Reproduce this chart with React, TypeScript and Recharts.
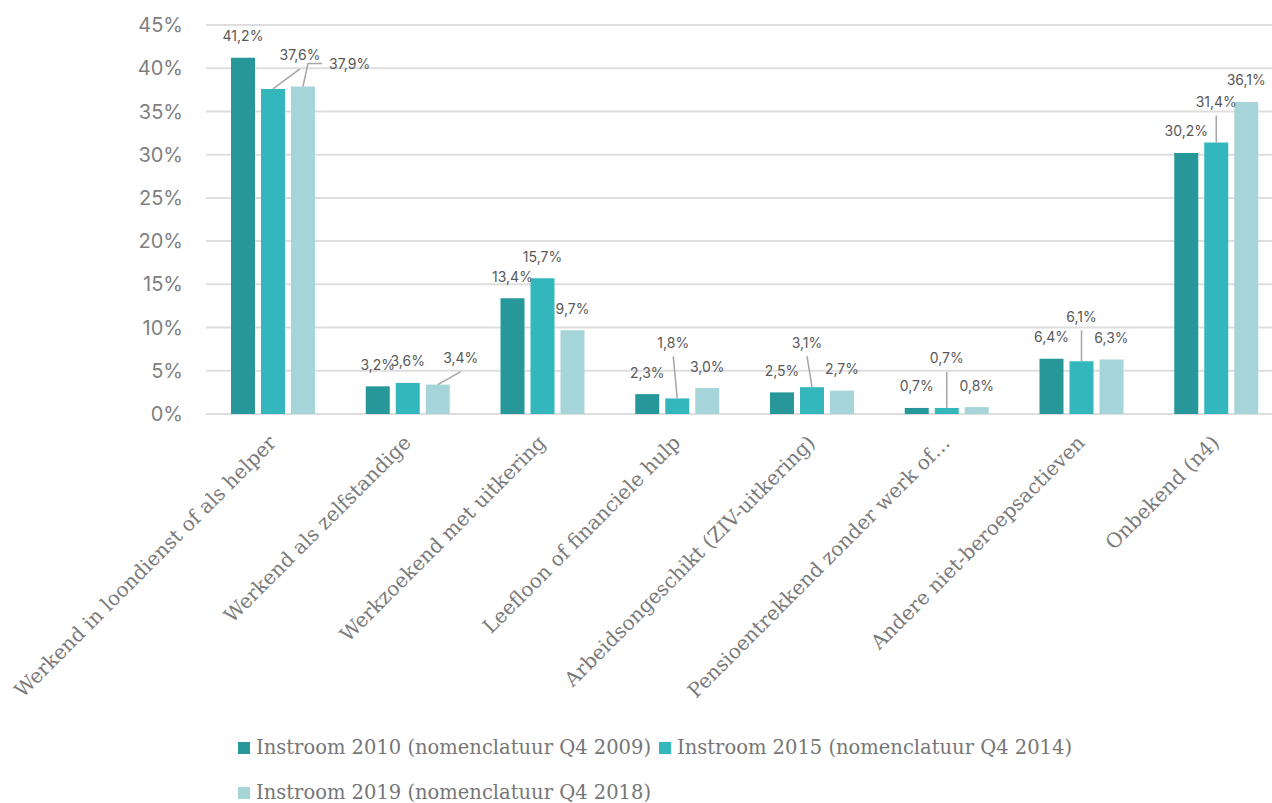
import React from 'react';
import { BarChart, Bar, XAxis, YAxis, CartesianGrid, Legend, LabelList } from 'recharts';

const categories = [
  'Werkend in loondienst of als helper',
  'Werkend als zelfstandige',
  'Werkzoekend met uitkering',
  'Leefloon of financiele hulp',
  'Arbeidsongeschikt (ZIV-uitkering)',
  'Pensioentrekkend zonder werk of…',
  'Andere niet-beroepsactieven',
  'Onbekend (n4)',
];
const instroom2010 = [41.2, 3.2, 13.4, 2.3, 2.5, 0.7, 6.4, 30.2];
const instroom2015 = [37.6, 3.6, 15.7, 1.8, 3.1, 0.7, 6.1, 31.4];
const instroom2019 = [37.9, 3.4, 9.7, 3.0, 2.7, 0.8, 6.3, 36.1];
const seriesNames = [
  'Instroom 2010 (nomenclatuur Q4 2009)',
  'Instroom 2015 (nomenclatuur Q4 2014)',
  'Instroom 2019 (nomenclatuur Q4 2018)',
];
const seriesKeys = ['s2010', 's2015', 's2019'];
const seriesColors = ['#279799', '#33b7bd', '#a6d5d9'];
const yTicks = [0, 5, 10, 15, 20, 25, 30, 35, 40, 45];

// label placement (relative to bar top centre) for labels moved away by the original layout
type Placement = { dx: number; dy: number; leader: 'none' | 'line' | 'elbow' };
const labelPlacement: Record<string, Placement> = {
  '1-0': { dx: 27, dy: -34, leader: 'line' },
  '1-3': { dx: -4, dy: -56, leader: 'line' },
  '1-4': { dx: -5, dy: -45, leader: 'line' },
  '1-5': { dx: 0, dy: -50, leader: 'line' },
  '1-6': { dx: 0, dy: -45, leader: 'line' },
  '1-7': { dx: 0, dy: -41, leader: 'line' },
  '2-0': { dx: 26, dy: -23, leader: 'elbow' },
  '2-1': { dx: 23, dy: -27, leader: 'line' },
};
const defaultPlacement: Placement = { dx: 0, dy: -22, leader: 'none' };

const data = categories.map((name, i) => ({
  name,
  s2010: instroom2010[i],
  s2015: instroom2015[i],
  s2019: instroom2019[i],
}));

const fmt = (v: number) => `${v.toFixed(1).replace('.', ',')}%`;

const makeLabel = (s: number) => (props: any) => {
  const { x, y, width, value, index } = props;
  const p = labelPlacement[`${s}-${index}`] || defaultPlacement;
  const bx = Number(x) + Number(width) / 2;
  const by = Number(y);
  const lx = bx + p.dx;
  const ly = by + p.dy;
  const textProps = {
    fill: '#595959',
    fontSize: 14,
    fontFamily: 'Inter, Lato, sans-serif',
    dominantBaseline: 'central' as const,
  };
  if (p.leader === 'elbow') {
    return (
      <g>
        <polyline
          points={`${bx},${by} ${bx + 5},${ly} ${lx - 7},${ly}`}
          fill="none"
          stroke="#a6a6a6"
          strokeWidth={1.5}
        />
        <text x={lx} y={ly} textAnchor="start" {...textProps}>
          {fmt(value)}
        </text>
      </g>
    );
  }
  return (
    <g>
      {p.leader === 'line' && (
        <line x1={bx} y1={by} x2={lx} y2={ly + 14} stroke="#a6a6a6" strokeWidth={1.5} />
      )}
      <text x={lx} y={ly} textAnchor="middle" {...textProps}>
        {fmt(value)}
      </text>
    </g>
  );
};

const CategoryTick = (props: any) => {
  const { x, y, payload } = props;
  return (
    <g transform={`translate(${Number(x) + 4},${Number(y) + 22}) rotate(-45)`}>
      <text
        x={0}
        y={0}
        textAnchor="end"
        fill="#7a7a7a"
        fontSize={20}
        fontFamily="'DejaVu Serif', serif"
      >
        {payload.value}
      </text>
    </g>
  );
};

const LegendContent = () => (
  <div
    style={{
      display: 'flex',
      flexWrap: 'wrap',
      width: 860,
      fontFamily: "'DejaVu Serif', serif",
      fontSize: 19.5,
      color: '#767676',
      lineHeight: '45px',
    }}
  >
    {seriesNames.map((n, i) => (
      <div key={n} style={{ display: 'flex', alignItems: 'center', marginRight: 8, whiteSpace: 'nowrap' }}>
        <span
          style={{
            display: 'inline-block',
            width: 12,
            height: 12,
            background: seriesColors[i],
            marginRight: 6,
          }}
        />
        <span>{n}</span>
      </div>
    ))}
  </div>
);

export default function App() {
  return (
    <div
      style={{
        position: 'absolute',
        left: 0,
        top: 0,
        width: 1272,
        height: 803,
        overflow: 'hidden',
        background: '#ffffff',
      }}
    >
      <BarChart
        width={1284}
        height={803}
        data={data}
        margin={{ top: 25, right: 0, left: 0, bottom: 0 }}
        barGap={6}
        barSize={24}
      >
        <CartesianGrid vertical={false} stroke="#dedede" strokeWidth={2} />
        <YAxis
          width={206}
          domain={[0, 45]}
          ticks={yTicks}
          interval={0}
          tickFormatter={(v: number) => `${v}%`}
          axisLine={false}
          tickLine={false}
          tickMargin={17}
          tick={{ fill: '#7f7f7f', fontSize: 20, fontFamily: 'Inter, Lato, sans-serif' }}
        />
        <XAxis
          dataKey="name"
          height={389}
          interval={0}
          axisLine={false}
          tickLine={false}
          tick={<CategoryTick />}
        />
        <Legend
          layout="vertical"
          align="center"
          verticalAlign="middle"
          wrapperStyle={{ top: 725, left: 238, width: 860 }}
          content={<LegendContent />}
        />
        {seriesKeys.map((k, s) => (
          <Bar key={k} dataKey={k} name={seriesNames[s]} fill={seriesColors[s]} isAnimationActive={false}>
            <LabelList dataKey={k} content={makeLabel(s)} />
          </Bar>
        ))}
      </BarChart>
    </div>
  );
}
